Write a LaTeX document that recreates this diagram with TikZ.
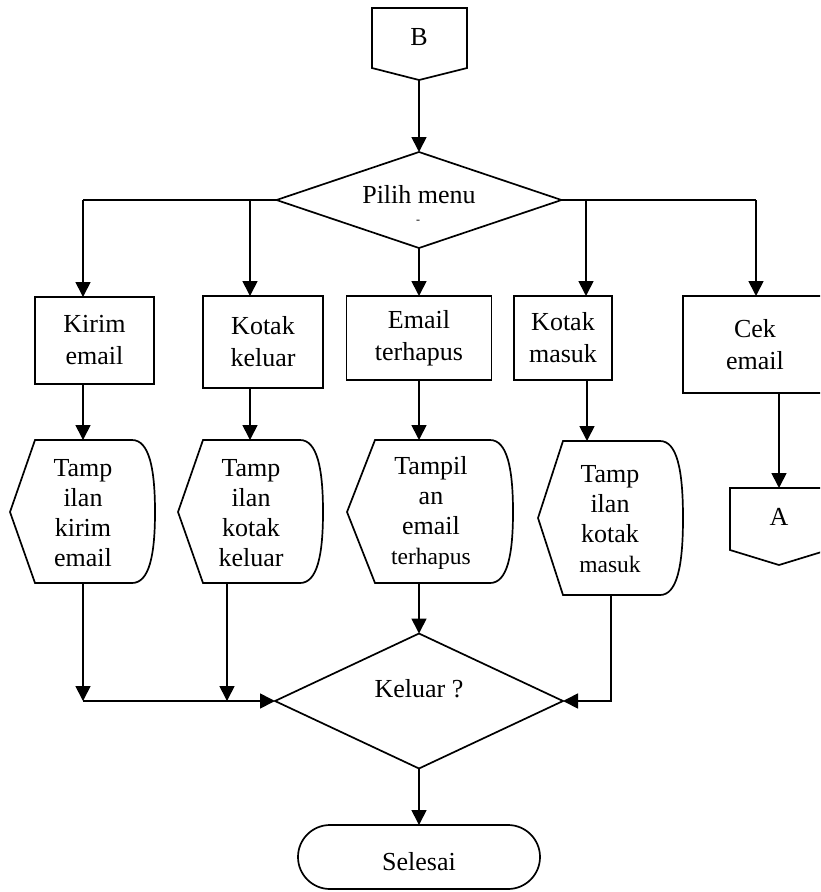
\documentclass[tikz,border=0pt]{standalone}
\usepackage{fontspec}
\setmainfont{Liberation Serif}
\usetikzlibrary{shapes.geometric,shapes.misc,arrows.meta,calc}

\begin{document}
\begin{tikzpicture}[x=1pt,y=-1pt,
  line width=1.7pt,
  every node/.style={inner sep=0pt, outer sep=0pt, font=\fontsize{26}{32}\selectfont},
  procbox/.style={draw, rectangle, align=center},
  decide/.style={draw, diamond, aspect=2.9},
  terminal/.style={draw, rounded rectangle},
  disptext/.style={align=center, font=\fontsize{26}{30}\selectfont},
  flow/.style={-{Triangle[length=15pt,width=15pt]}},
]
\useasboundingbox (0,0) rectangle (820,892);
\clip (0,0) rectangle (820,892);

% off-page connector B
\draw (372,8) -- (467,8) -- (467,68) -- (419,80) -- (372,68) -- cycle;
\node (labB) at (419,37) {B};
\coordinate (bTip) at (419,80);

% first decision
\node[decide, minimum width=285pt, minimum height=96pt] (dPilih) at (419,200) {};
\node (pilihTxt) at (419,195) {Pilih menu};
\node[font=\fontsize{12}{14}\selectfont] (pilihDash) at (418,222) {-};
\draw[flow] (bTip) -- (dPilih.north);

% menu boxes
\node[procbox, minimum width=119pt, minimum height=87pt] (bKirim) at (94.5,340.5) {Kirim\\email};
\node[procbox, minimum width=120pt, minimum height=92pt] (bKeluar) at (263,342) {Kotak\\keluar};
\node[procbox, minimum width=145pt, minimum height=84pt] (bHapus) at (419,338) {Email\\terhapus};
\node[procbox, minimum width=98pt, minimum height=84pt] (bMasuk) at (563,338) {Kotak\\masuk};
\node[procbox, minimum width=144pt, minimum height=97pt] (bCek) at (755,344.5) {Cek\\email};

% branches from the menu choice
\coordinate (k1) at (83,200);
\coordinate (k2) at (250,200);
\coordinate (k4) at (586,200);
\coordinate (k5) at (756,200);
\draw (dPilih.west) -- (k1);
\draw (dPilih.east) -- (k5);
\draw[flow] (k1) -- (k1 |- bKirim.north);
\draw[flow] (k2) -- (k2 |- bKeluar.north);
\draw[flow] (dPilih.south) -- (bHapus.north);
\draw[flow] (k4) -- (k4 |- bMasuk.north);
\draw[flow] (k5) -- (k5 |- bCek.north);

% display shapes
\draw (10,512) -- (35,440) -- (132,440) .. controls (149,440) and (155,468) .. (155,512)
      .. controls (155,556) and (149,583) .. (132,583) -- (35,583) -- cycle;
\node[disptext] (t1) at (83,513) {Tamp\\ilan\\kirim\\email};
\coordinate (d1top) at (83,440);
\coordinate (d1bot) at (83,583);

\draw (178,512) -- (203,440) -- (300,440) .. controls (317,440) and (323,468) .. (323,512)
      .. controls (323,556) and (317,583) .. (300,583) -- (203,583) -- cycle;
\node[disptext] (t2) at (251,513) {Tamp\\ilan\\kotak\\keluar};
\coordinate (d2top) at (250,440);
\coordinate (d2bot) at (227,583);

\draw (347,512) -- (375,440) -- (490,440) .. controls (507,440) and (513,468) .. (513,512)
      .. controls (513,556) and (507,583) .. (490,583) -- (375,583) -- cycle;
\node[disptext] (t3) at (431,513) {Tampil\\an\\email\\{\fontsize{23.5}{30}\selectfont terhapus}};
\coordinate (d3top) at (419,440);
\coordinate (d3bot) at (419,583);

\draw (538,518) -- (563,441) -- (660,441) .. controls (677,441) and (683,470) .. (683,518)
      .. controls (683,566) and (677,595) .. (660,595) -- (563,595) -- cycle;
\node[disptext] (t4) at (610,519) {Tamp\\ilan\\kotak\\{\fontsize{23.5}{30}\selectfont masuk}};
\coordinate (d4top) at (587,441);
\coordinate (d4bot) at (611,595);

% off-page connector A
\draw (730,488) -- (828,488) -- (828,550) -- (779,565) -- (730,550) -- cycle;
\node (labA) at (779,517) {A};
\coordinate (aTop) at (779,488);

% boxes to displays
\draw[flow] (k1 |- bKirim.south) -- (d1top);
\draw[flow] (k2 |- bKeluar.south) -- (d2top);
\draw[flow] (bHapus.south) -- (d3top);
\draw[flow] (d4top |- bMasuk.south) -- (d4top);
\draw[flow] (aTop |- bCek.south) -- (aTop);

% exit decision
\node[decide, minimum width=288pt, minimum height=135pt] (dKeluar) at (419,701) {};
\node (keluarTxt) at (419,689) {Keluar ?};
\coordinate (j1) at (83,701);
\draw[flow] (d1bot) -- (j1);
\draw[flow] (d2bot) -- (d2bot |- j1);
\draw[flow] (j1) -- (dKeluar.west);
\draw[flow] (d3bot) -- (dKeluar.north);
\draw[flow] (d4bot) |- (dKeluar.east);

% terminal
\node[terminal, minimum width=242pt, minimum height=64pt] (selesai) at (419,857) {};
\node (selesaiTxt) at (419,862) {Selesai};
\draw[flow] (dKeluar.south) -- (selesai.north);
\end{tikzpicture}
\end{document}
